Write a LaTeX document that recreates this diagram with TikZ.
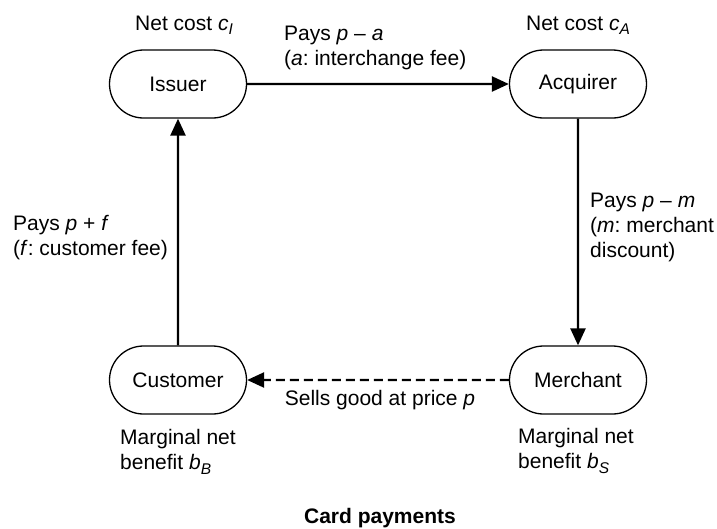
\documentclass[tikz,border=0pt]{standalone}
\usepackage{fontspec}
\setmainfont{Liberation Sans}
\usetikzlibrary{shapes.misc,arrows.meta}
% lowered italic subscript, as in c_I or b_B
\newcommand{\lowsub}[1]{\raisebox{-0.45ex}{\fontsize{15.5}{15.5}\selectfont\itshape #1}}
\frenchspacing
\begin{document}
\begin{tikzpicture}[x=1pt,y=-1pt,
  every node/.style={font=\fontsize{21}{25}\selectfont},
  party/.style={draw, rounded rectangle, line width=1.3pt,
    minimum width=137pt, minimum height=68pt, inner sep=0pt},
  flow/.style={line width=2.4pt, -{Triangle[length=17pt,width=15pt]}},
  note/.style={inner sep=0pt, align=left}]
\useasboundingbox (0,0) rectangle (717,528);

% the four parties
\node[party] (issuer)   at (178,84)  {Issuer};
\node[party] (acquirer) at (578,84)  {Acquirer};
\node[party] (customer) at (178,380) {Customer};
\node[party] (merchant) at (578,380) {Merchant};

% payment flows
\draw[flow] (issuer) -- (acquirer);
\draw[flow] (acquirer) -- (merchant);
\draw[flow, dash pattern=on 9pt off 5pt] (merchant) -- (customer);
\draw[flow] (customer) -- (issuer);

% costs, fees and benefits (multi-line notes sit on their last baseline)
\node[note, anchor=base] (costI) at (184,30) {Net cost {\itshape c}\lowsub{I}};
\node[note, anchor=base] (costA) at (578,30) {Net cost {\itshape c}\lowsub{A}};
\node[note, anchor=base west] (feeIA) at (284,65)
  {Pays \textit{p} – \textit{a}\\(\textit{a}: interchange fee)};
\node[note, anchor=base west] (feeAM) at (590,257)
  {Pays \textit{p} – \textit{m}\\(\textit{m}: merchant\\discount)};
\node[note, anchor=base west] (feeCI) at (13,255)
  {Pays \textit{p} + \textit{f}\\(\textit{f}: customer fee)};
\node[note, anchor=base] (sale) at (380,405) {Sells good at price \textit{p}};
\node[note, anchor=base west] (benB) at (120,469)
  {Marginal net\\benefit {\itshape b}\lowsub{B}};
\node[note, anchor=base west] (benS) at (518,468)
  {Marginal net\\benefit {\itshape b}\lowsub{S}};

\node[inner sep=0pt, anchor=base, font=\fontsize{21}{25}\selectfont\bfseries]
  (title) at (380,523) {Card payments};
\end{tikzpicture}
\end{document}
